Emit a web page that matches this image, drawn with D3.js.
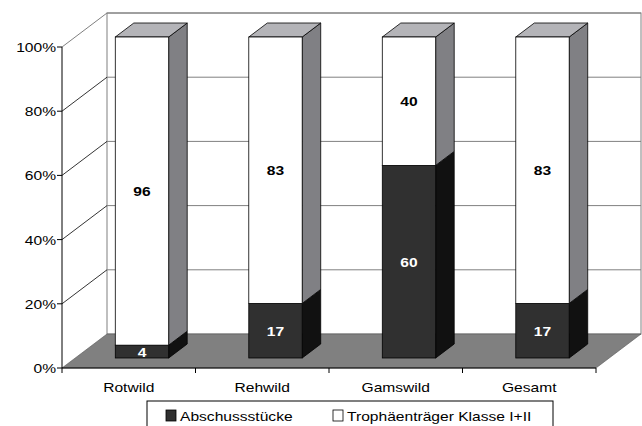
<!DOCTYPE html>
<head>
<meta charset="utf-8">
<script src="https://cdn.jsdelivr.net/npm/d3@7"></script>
<style>
body { margin: 0; background: #fff; }
svg text { font-family: "Liberation Sans", Arial, sans-serif; }
</style>
</head>
<body>
<div class="viz"></div>
<script>
var categories = ["Rotwild", "Rehwild", "Gamswild", "Gesamt"];
var abschuss = [4, 17, 60, 17];
var trophae = [96, 83, 40, 83];
var seriesNames = ["Abschussstücke", "Trophäenträger Klasse I+II"];
var yTicks = [0, 20, 40, 60, 80, 100];

var W = 642, H = 426;
var depthX = 45, depthY = 34;   // wall depth
var barFront = 10, barBack = 24; // bar depth range (in y px)
var stretch = 1.2;               // text in the picture is horizontally wide

var svg = d3.select(".viz").append("svg").attr("width", W).attr("height", H);

var x = d3.scaleBand().domain(categories).range([62, 596]).paddingInner(0.6).paddingOuter(0.3);
var y = d3.scaleLinear().domain([0, 100]).range([368, 47]);

function off(d) { return [d * depthX / depthY, -d]; }
function pts(a) { return a.map(function(p){ return p.join(","); }).join(" "); }
function txt(g, s, tx, ty, anchor, size, weight, fill) {
	return g.append("text")
		.attr("transform", "translate(" + tx + "," + ty + ") scale(" + stretch + ",1)")
		.attr("text-anchor", anchor)
		.style("font-size", size + "px")
		.style("font-weight", weight)
		.style("fill", fill)
		.text(s);
}

var x0 = 62, x1 = 596;
// back wall
svg.append("rect").attr("x", x0 + depthX).attr("y", y(100) - depthY)
	.attr("width", x1 - x0).attr("height", y(0) - y(100))
	.style("fill", "#fff").style("stroke", "#808080").style("stroke-width", 1);
// gridlines on back and left wall
yTicks.forEach(function(t) {
	if (t == 0) return;
	svg.append("line").attr("x1", x0 + depthX).attr("x2", x1 + depthX)
		.attr("y1", y(t) - depthY).attr("y2", y(t) - depthY)
		.style("stroke", "#808080");
	svg.append("line").attr("x1", x0).attr("y1", y(t))
		.attr("x2", x0 + depthX).attr("y2", y(t) - depthY)
		.style("stroke", t == 100 ? "#808080" : "#000").style("stroke-width", t == 100 ? 1 : 0.8);
});
// floor
svg.append("polygon")
	.attr("points", pts([[x0, y(0)], [x1, y(0)], [x1 + depthX, y(0) - depthY], [x0 + depthX, y(0) - depthY]]))
	.style("fill", "#808080").style("stroke", "#555").style("stroke-width", 0.6);

// y axis
var yAxis = svg.append("g");
yAxis.append("line").attr("x1", x0).attr("x2", x0).attr("y1", y(0)).attr("y2", y(100)).style("stroke", "#000");
yTicks.forEach(function(t) {
	yAxis.append("line").attr("x1", x0 - 5).attr("x2", x0).attr("y1", y(t)).attr("y2", y(t)).style("stroke", "#000");
	txt(yAxis, t + "%", x0 - 6, y(t) + 5, "end", 13, "normal", "#000");
});
// x axis
svg.append("line").attr("x1", x0).attr("x2", x1).attr("y1", y(0)).attr("y2", y(0)).style("stroke", "#000");
var step = x.step();
for (var i = 0; i <= categories.length; i++) {
	var tx = x0 + i * step;
	svg.append("line").attr("x1", tx).attr("x2", tx).attr("y1", y(0)).attr("y2", y(0) + 5).style("stroke", "#000");
}
categories.forEach(function(c) {
	txt(svg, c, x(c) + x.bandwidth() / 2, 392, "middle", 13, "normal", "#000");
});

// bars
var frontCol = ["#303030", "#ffffff"];
var sideCol = ["#111111", "#808084"];
var topCol = "#b4b4b8";
categories.forEach(function(c, i) {
	var vals = [abschuss[i], trophae[i]];
	var f = off(barFront), b = off(barBack);
	var bx0 = x(c) + f[0], bx1 = x(c) + x.bandwidth() + f[0];
	var dx = b[0] - f[0], dy = b[1] - f[1];
	var base = 0;
	vals.forEach(function(v, k) {
		var yb = y(base) + f[1], yt = y(base + v) + f[1];
		svg.append("polygon")
			.attr("points", pts([[bx1, yb], [bx1 + dx, yb + dy], [bx1 + dx, yt + dy], [bx1, yt]]))
			.style("fill", sideCol[k]).style("stroke", "#000").style("stroke-width", 0.8);
		if (k == vals.length - 1) {
			svg.append("polygon")
				.attr("points", pts([[bx0, yt], [bx1, yt], [bx1 + dx, yt + dy], [bx0 + dx, yt + dy]]))
				.style("fill", topCol).style("stroke", "#000").style("stroke-width", 0.8);
		}
		svg.append("rect").attr("x", bx0).attr("y", yt).attr("width", bx1 - bx0).attr("height", yb - yt)
			.style("fill", frontCol[k]).style("stroke", "#000").style("stroke-width", 0.8);
		txt(svg, v, (bx0 + bx1) / 2, (yb + yt) / 2 + 5, "middle", 13, "bold", k == 0 ? "#fff" : "#000");
		base += v;
	});
});

// legend
var lg = svg.append("g");
lg.append("rect").attr("x", 147).attr("y", 401).attr("width", 406).attr("height", 40)
	.style("fill", "#fff").style("stroke", "#000");
var lx = [166, 333];
seriesNames.forEach(function(s, k) {
	lg.append("rect").attr("x", lx[k]).attr("y", 410).attr("width", 10).attr("height", 11)
		.style("fill", frontCol[k]).style("stroke", "#000").style("stroke-width", 0.8);
	txt(lg, s, lx[k] + 14, 421, "start", 13, "normal", "#000");
});
</script>
</body>
